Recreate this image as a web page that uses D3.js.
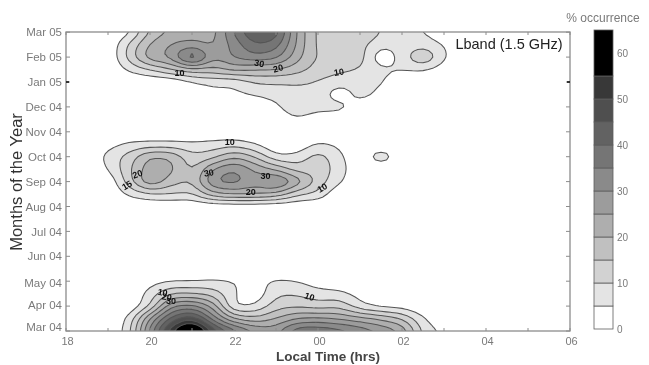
<!DOCTYPE html>
<html><head><meta charset="utf-8">
<style>html,body{margin:0;padding:0;background:#fff}svg{display:block}text{font-family:"Liberation Sans",Arial,sans-serif}</style>
<script src="https://cdn.jsdelivr.net/npm/d3@7"></script></head>
<body><svg id="c" width="649" height="365"></svg>
<script>
// Grid axes
const hours = d3.range(25).map(i => 18 + i * 0.5);
const monthPositions = d3.range(25).map(i => 12 - i * 0.5);
const monthLabels = ["Mar 04","Apr 04","May 04","Jun 04","Jul 04","Aug 04","Sep 04","Oct 04","Nov 04","Dec 04","Jan 05","Feb 05","Mar 05"];
const hourTicks = [18,20,22,24,26,28,30];
const hourTickLabels = ["18","20","22","00","02","04","06"];
const levels = [5,10,15,20,25,30,35,40,45,50,55];
const bandShades = ["#e4e4e4","#d2d2d2","#c0c0c0","#aeaeae","#9c9c9c","#8a8a8a","#747474","#626262","#505050","#383838","#000000"];
const barTicks = [0,10,20,30,40,50,60];
// % occurrence: rows from Mar 05 (top) to Mar 04 (bottom), half month apart; columns 18h..06h, half hour apart
const occurrence = [
[0,0,0,3,16,21,22,22,36,46,44,24,13,13,16,10,4,5.5,0,0,0,0,0,0,0],
[0,0,0,11,21,25.5,27,24,32,40,38,24,13,13.5,12,6,7,8,5,0,0,0,0,0,0],
[0,0,0,12,24,26,44,25,31,34,32,22,13.5,16.5,13,0,7,17,5.5,0,0,0,0,0,0],
[0,0,0,6,10,15,18,18,22,20,20,17,13,11,9.5,6,5.5,5.5,2,0,0,0,0,0,0],
[0,0,0,0,0,0,4.5,6.5,5.5,10.5,10.5,10.5,9.5,7.5,7,6,0,0,0,0,0,0,0,0,0],
[0,0,0,0,0,0,0,3,4,5.5,7,8.5,9,0,8,3,0,0,0,0,0,0,0,0,0],
[0,0,0,0,0,0,0,0,0,0.5,3.5,10.5,8,8,1,0,0,0,0,0,0,0,0,0,0],
[0,0,0,0,0,0,0,0,0,0,0,4.5,0,0,0,0,0,0,0,0,0,0,0,0,0],
[0,0,0,0,0,0,0,0,0,0,0,0,0,0,0,0,0,0,0,0,0,0,0,0,0],
[0,0,3,6,6.5,6.5,6,7,8,5,0,0.5,6,4,0,0,0,0,0,0,0,0,0,0,0],
[0,0,7,12,21,20,11,13,20,15,5.5,6.5,13,6.5,0,11,0,0,0,0,0,0,0,0,0],
[0,0,5,14,24,22,13,26,31,24,19,12,13.5,8,0,0,0,0,0,0,0,0,0,0,0],
[0,0,0,13,26,17,14.5,31,33,27,34,24,13,6,0,0,0,0,0,0,0,0,0,0,0],
[0,0,0,6,9.5,10,9,19,21,21,19,11,9,0,0,0,0,0,0,0,0,0,0,0,0],
[0,0,0,0,0,0,0,0,0,0,0,0,0,0,0,0,0,0,0,0,0,0,0,0,0],
[0,0,0,0,0,0,0,0,0,0,0,0,0,0,0,0,0,0,0,0,0,0,0,0,0],
[0,0,0,0,0,0,0,0,0,0,0,0,0,0,0,0,0,0,0,0,0,0,0,0,0],
[0,0,0,0,0,0,0,0,0,0,0,0,0,0,0,0,0,0,0,0,0,0,0,0,0],
[0,0,0,0,0,0,0,0,0,0,0,0,0,0,0,0,0,0,0,0,0,0,0,0,0],
[0,0,0,0,0,0,0,0,0,0,0,0,0,0,0,0,0,0,0,0,0,0,0,0,0],
[0,0,0,0,3,4.6,4.6,5.5,5.2,3,6,5,2,1,0,0,0,0,0,0,0,0,0,0,0],
[0,0,0,0,7,15,15,13,5.5,0.5,9.5,9.5,7,6.5,3,0,0,0,0,0,0,0,0,0,0],
[0,0,0,0,9,30,32,24,3,5,13,14,12,14,6,3,2.5,0,0,0,0,0,0,0,0],
[0,0,0,5.5,26,42,50,32,19,16,20,25,26,24,22,19,15,5.5,0,0,0,0,0,0,0],
[0,0,0,7,32,54,72,48,38,30,28,40,40,38,34,30,25,8,4,0,0,0,0,0,0]
];
const labelTexts = ["10","30","20","10","10","20","15","30","30","20","10","10","20","30","10"];
const labelHours = [20.7,22.6,23.05,24.5,21.9,19.7,19.45,21.4,22.75,22.4,24.1,20.3,20.4,20.5,23.8];
const labelMonths = [10.35,10.75,10.55,10.4,7.6,6.3,5.85,6.35,6.25,5.6,5.75,1.55,1.37,1.2,1.38];
const labelAngles = [0,10,-15,-10,0,-20,-30,-10,0,0,-30,10,10,0,20];

const svg = d3.select("#c");
const defs = svg.append("defs");
defs.append("filter").attr("id","soft").attr("x","-5%").attr("y","-5%").attr("width","110%").attr("height","110%")
  .append("feGaussianBlur").attr("stdDeviation",0.35);
defs.append("clipPath").attr("id","plot").append("rect").attr("x",66).attr("y",32).attr("width",504).attr("height",299);
const root = svg.append("g").attr("filter","url(#soft)");

const x = d3.scaleLinear().domain([18,30]).range([66,570]);
const y = d3.scaleLinear().domain([0,12]).range([331,32.2]);

// refine the read grid so that contours run smoothly
const F = 4, nx = hours.length, ny = monthPositions.length;
const W = (nx-1)*F+1, H = (ny-1)*F+1, fine = new Float64Array(W*H);
for (let j=0;j<H;j++) for (let i=0;i<W;i++){
  const a=i/F,b=j/F,i0=Math.min(Math.floor(a),nx-2),j0=Math.min(Math.floor(b),ny-2),u=a-i0,v=b-j0;
  fine[j*W+i]=(1-v)*((1-u)*occurrence[j0][i0]+u*occurrence[j0][i0+1])+v*((1-u)*occurrence[j0+1][i0]+u*occurrence[j0+1][i0+1]);
}
d3.blur2({data:fine,width:W,height:H},0.6,0.5);

const hourOf = d3.scaleLinear().domain([0.5,W-0.5]).range([hours[0],hours[nx-1]]);
const monthOf = d3.scaleLinear().domain([0.5,H-0.5]).range([monthPositions[0],monthPositions[ny-1]]);
const path = d3.geoPath(d3.geoTransform({point(a,b){this.stream.point(x(hourOf(a)),y(monthOf(b)));}}));
const contours = d3.contours().size([W,H]).thresholds(levels)(fine);

const plot = root.append("g").attr("clip-path","url(#plot)");
plot.selectAll("path").data(contours).join("path")
  .attr("d",path)
  .attr("fill",(d,i)=>bandShades[i])
  .attr("stroke","#555").attr("stroke-width",1.05).attr("stroke-linejoin","round");

// contour labels
plot.selectAll("text").data(labelTexts).join("text")
  .attr("transform",(d,i)=>`translate(${x(labelHours[i])},${y(labelMonths[i])}) rotate(${labelAngles[i]})`)
  .attr("text-anchor","middle").attr("dy","0.35em")
  .attr("font-size",9).attr("font-weight","bold").attr("fill","#111").text(d=>d);

// axes
const axisGrey="#8c8c8c", textGrey="#7a7a7a";
root.append("rect").attr("x",66).attr("y",32).attr("width",504).attr("height",299)
  .attr("fill","none").attr("stroke",axisGrey).attr("stroke-width",1.3);

const xAxis = d3.axisBottom(x).tickValues(hourTicks).tickSize(0).tickPadding(6).tickFormat((d,i)=>hourTickLabels[i]);
const gx = root.append("g").attr("transform","translate(1,331)").call(xAxis);
gx.select(".domain").remove();
gx.selectAll("text").attr("font-size",11).attr("font-family",'"Liberation Sans",sans-serif').attr("fill",textGrey);

const yAxis = d3.axisLeft(y).tickValues(d3.range(13)).tickSize(0).tickPadding(4).tickFormat(d=>monthLabels[d]);
const gy = root.append("g").attr("transform","translate(66,0)").call(yAxis);
gy.select(".domain").remove();
gy.selectAll("text").attr("font-size",11.5).attr("font-family",'"Liberation Sans",sans-serif').attr("fill",textGrey)
  .attr("dy",d=>d===0?"-0.05em":d===1?"0.2em":d===2?"0.5em":"0.32em");

const minorH = d3.range(18,31), minorM = d3.range(13);
const tg = root.append("g").attr("stroke",axisGrey).attr("stroke-width",1);
[331,32].forEach((yy,k)=>tg.append("g").selectAll("line").data(minorH).join("line")
  .attr("x1",d=>x(d)).attr("x2",d=>x(d)).attr("y1",yy).attr("y2",yy+(k?3:-3)));
[66,570].forEach((xx,k)=>tg.append("g").selectAll("line").data(minorM).join("line")
  .attr("y1",d=>y(d)).attr("y2",d=>y(d)).attr("x1",xx).attr("x2",xx+(k?-4:4)));
[66,570].forEach((xx,k)=>root.append("line").attr("y1",y(10)).attr("y2",y(10)).attr("x1",xx).attr("x2",xx+(k?-3:3)).attr("stroke","#111").attr("stroke-width",1.6));

// titles
root.append("text").attr("transform","translate(22,182) rotate(-90)").attr("text-anchor","middle")
  .attr("font-size",16.5).attr("fill","#333").text("Months of the Year");
root.append("text").attr("x",328).attr("y",361).attr("text-anchor","middle")
  .attr("font-size",13.5).attr("font-weight","bold").attr("fill","#444").text("Local Time (hrs)");
root.append("text").attr("x",509).attr("y",49).attr("text-anchor","middle")
  .attr("font-size",14.5).attr("fill","#222").text("Lband (1.5 GHz)");
root.append("text").attr("x",603).attr("y",22).attr("text-anchor","middle")
  .attr("font-size",12).attr("fill",textGrey).text("% occurrence");

// colour bar
const c = d3.scaleLinear().domain([0,65]).range([329,30]);
const barEdges = [0].concat(levels), barShades = ["#ffffff"].concat(bandShades);
root.append("g").selectAll("rect").data(barEdges).join("rect")
  .attr("x",594).attr("width",19)
  .attr("y",(d,i)=>c(i<barEdges.length-1?barEdges[i+1]:65))
  .attr("height",(d,i)=>c(d)-c(i<barEdges.length-1?barEdges[i+1]:65))
  .attr("fill",(d,i)=>barShades[i]).attr("stroke","#5e5e5e").attr("stroke-width",0.8);
const gc = root.append("g").attr("transform","translate(613,0)")
  .call(d3.axisRight(c).tickValues(barTicks).tickSize(0).tickPadding(4));
gc.select(".domain").remove();
gc.selectAll("text").attr("font-size",10).attr("font-family",'"Liberation Sans",sans-serif').attr("fill",textGrey);
</script></body></html>
